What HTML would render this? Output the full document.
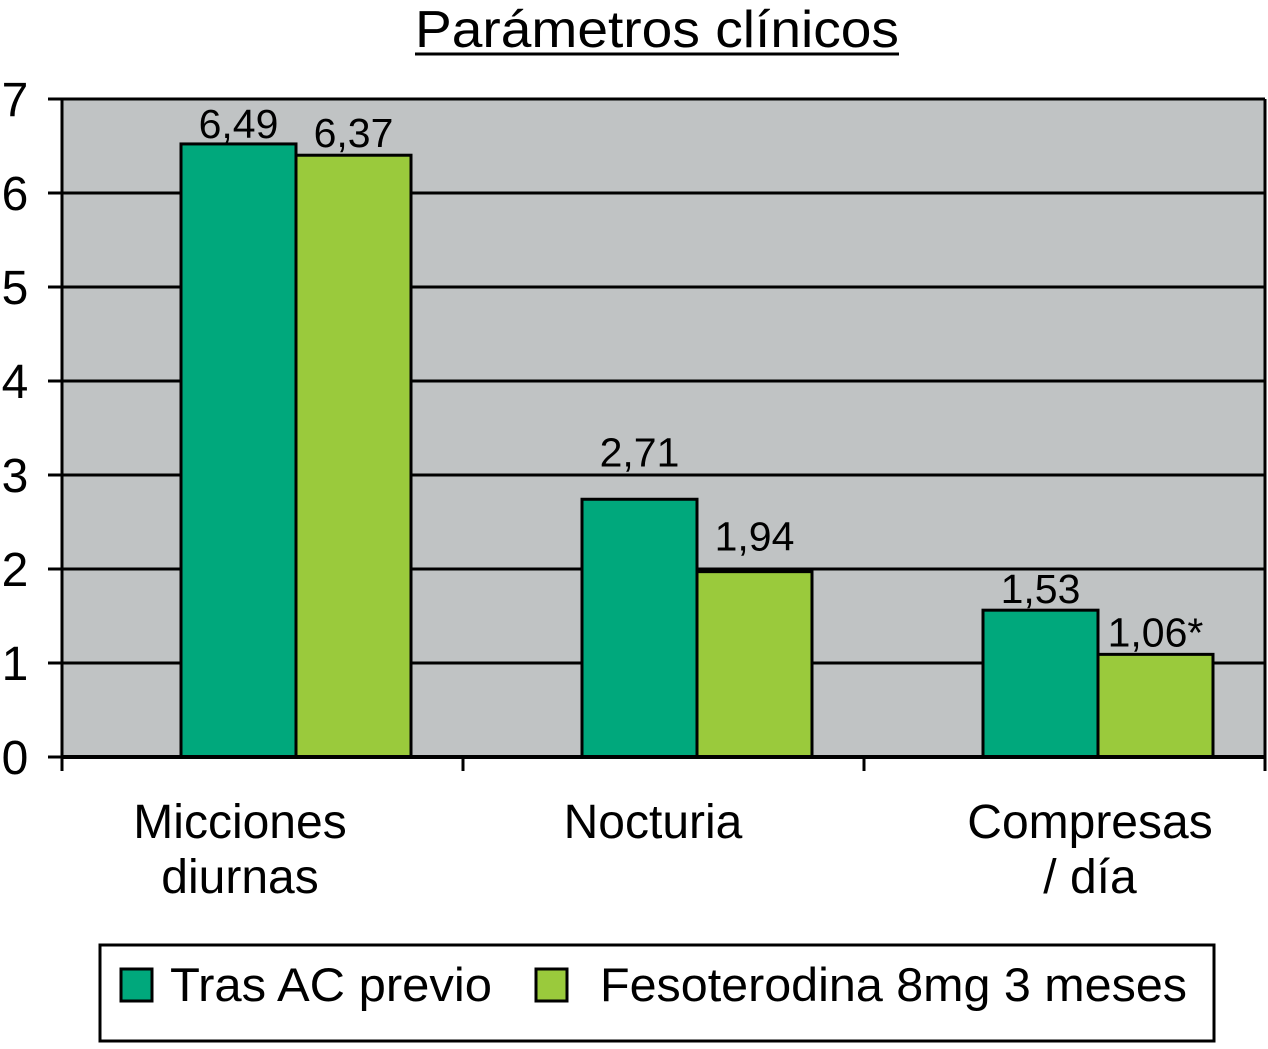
<!DOCTYPE html>
<html><head><meta charset="utf-8">
<style>
html,body{margin:0;padding:0;background:#fff;}
svg text{font-family:"Liberation Sans",Arial,sans-serif;fill:#000;}
</style></head>
<body>
<svg id="chart" width="1268" height="1044" viewBox="0 0 1268 1044" xmlns="http://www.w3.org/2000/svg">
<text x="657" y="47" font-size="52" text-anchor="middle" textLength="484" lengthAdjust="spacingAndGlyphs">Parámetros clínicos</text>
<line x1="415" x2="899" y1="54" y2="54" stroke="#000" stroke-width="3"/>
<rect x="62" y="99" width="1203" height="658" fill="#c0c3c4"/>
<g id="grid"></g>
<g id="bars"></g>
<g id="axes"></g>
<g>
<rect x="100" y="945" width="1114" height="96" fill="#fff" stroke="#000" stroke-width="3"/>
<rect x="121" y="969" width="31" height="32" fill="#00a87c" stroke="#000" stroke-width="3"/>
<text x="170" y="1001" font-size="47" textLength="322" lengthAdjust="spacingAndGlyphs">Tras AC previo</text>
<rect x="536" y="969" width="31" height="32" fill="#9aca3c" stroke="#000" stroke-width="3"/>
<text x="600" y="1001" font-size="47" textLength="587" lengthAdjust="spacingAndGlyphs">Fesoterodina 8mg 3 meses</text>
</g>
</svg>
<script>
const categories = [["Micciones","diurnas"],["Nocturia"],["Compresas","/ día"]];
const seriesA = [6.49, 2.71, 1.53];
const seriesB = [6.37, 1.94, 1.06];
const labelsA = ["6,49","2,71","1,53"];
const labelsB = ["6,37","1,94","1,06*"];
const yTicks = [0,1,2,3,4,5,6,7];

// layout-only constants
const labelGapA=[6,33,7], labelGapB=[8,21,8];
const catShift=[0,12,48];

const NS="http://www.w3.org/2000/svg";
const x0=62,x1=1265,yBase=757,unit=94;
const groupW=(x1-x0)/categories.length;
const y=v=>yBase-v*unit;
function mk(tag,attrs,parent){const e=document.createElementNS(NS,tag);for(const k in attrs)e.setAttribute(k,attrs[k]);parent.appendChild(e);return e;}
const grid=document.getElementById('grid'),bars=document.getElementById('bars'),axes=document.getElementById('axes');
yTicks.forEach(t=>{
  const l=mk('line',{x1:48,x2:x1,y1:y(t),y2:y(t),stroke:'#000','stroke-width':3},grid);
  
  
  const tx=mk('text',{x:15,y:y(t)+17,'font-size':48,'text-anchor':'middle'},axes);
  tx.textContent=t;
  
  
});
const bw=115;
categories.forEach((c,i)=>{
  const gx=x0+i*groupW+119;
  [[seriesA,labelsA,'#00a87c','a',labelGapA],[seriesB,labelsB,'#9aca3c','b',labelGapB]].forEach(([s,lb,col,k,gap],j)=>{
    const bx=gx+j*bw;
    const top=y(s[i])-3;
    const r=mk('rect',{x:bx,y:top,width:bw,height:yBase-top,fill:col,stroke:'#000','stroke-width':3},bars);
    
    
    const t=mk('text',{x:bx+bw/2,y:top-gap[i],'font-size':41,'text-anchor':'middle'},bars);
    t.textContent=lb[i];
    
    
  });
  const cx=x0+i*groupW+178+catShift[i];
  c.forEach((line,li)=>{
    const t=mk('text',{x:cx,y:838+li*55,'font-size':48,'text-anchor':'middle'},axes);
    t.textContent=line;
    
    
  });
});
const ax=mk('line',{x1:x0,x2:x0,y1:99,y2:yBase,stroke:'#000','stroke-width':3},axes);


const rb=mk('line',{x1:x1,x2:x1,y1:99,y2:771,stroke:'#000','stroke-width':3},axes);


const xa=mk('line',{x1:x0,x2:x1,y1:yBase,y2:yBase,stroke:'#000','stroke-width':4},axes);


for(let i=0;i<=categories.length;i++){
  const tk=mk('line',{x1:x0+i*groupW,x2:x0+i*groupW,y1:yBase,y2:771,stroke:'#000','stroke-width':3},axes);
  
  
}
</script>
</body></html>
